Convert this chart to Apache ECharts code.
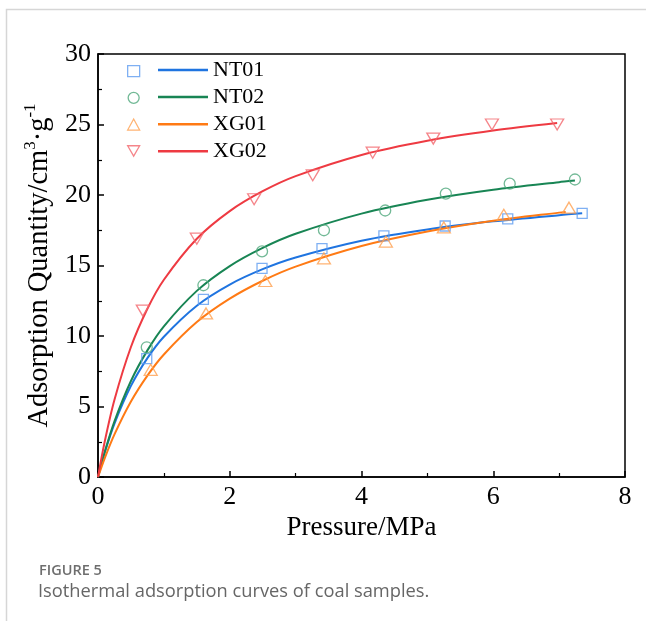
<!DOCTYPE html>
<html><head><meta charset="utf-8">
<script src="https://cdn.jsdelivr.net/npm/echarts@6/dist/echarts.min.js"></script>
<style>html,body{margin:0;padding:0;background:#fff}#c{width:646px;height:621px}</style>
</head><body><div id="c"></div>
<script>
// measured points
var nt01P = [0.74, 1.60, 2.49, 3.40, 4.34, 5.27, 6.22, 7.35];
var nt01V = [8.4, 12.6, 14.8, 16.2, 17.1, 17.8, 18.3, 18.7];
var nt02P = [0.74, 1.60, 2.49, 3.43, 4.36, 5.28, 6.25, 7.24];
var nt02V = [9.2, 13.6, 16.0, 17.5, 18.9, 20.1, 20.8, 21.1];
var xg01P = [0.80, 1.64, 2.54, 3.43, 4.37, 5.25, 6.16, 7.15];
var xg01V = [7.6, 11.6, 13.9, 15.5, 16.7, 17.7, 18.6, 19.1];
var xg02P = [0.68, 1.50, 2.37, 3.26, 4.17, 5.09, 5.98, 6.97];
var xg02V = [11.8, 16.9, 19.7, 21.4, 23.0, 24.0, 25.0, 25.0];
// fitted curves
var nt01FitP = [0, 0.1, 0.25, 0.5, 0.75, 1, 1.5, 2, 2.5, 3, 4, 5, 6, 7, 7.35];
var nt01FitV = [0, 1.70, 3.79, 6.46, 8.43, 9.95, 12.15, 13.65, 14.74, 15.57, 16.76, 17.56, 18.13, 18.57, 18.70];
var nt02FitP = [0, 0.1, 0.25, 0.5, 0.75, 1, 1.5, 2, 2.5, 3, 4, 5, 6, 7, 7.24];
var nt02FitV = [0, 1.74, 3.95, 6.81, 8.98, 10.69, 13.20, 14.96, 16.25, 17.25, 18.68, 19.66, 20.37, 20.91, 21.02];
var xg01FitP = [0, 0.1, 0.25, 0.5, 0.75, 1, 1.5, 2, 2.5, 3, 4, 5, 6, 7, 7.1];
var xg01FitV = [0, 1.31, 3.02, 5.35, 7.19, 8.69, 10.99, 12.65, 13.92, 14.92, 16.38, 17.41, 18.17, 18.75, 18.80];
var xg02FitP = [0, 0.1, 0.25, 0.5, 0.75, 1, 1.5, 2, 2.5, 3, 4, 5, 6, 6.97];
var xg02FitV = [0, 2.47, 5.48, 9.22, 11.93, 13.99, 16.90, 18.86, 20.27, 21.34, 22.84, 23.85, 24.57, 25.10];
var names = ['NT01', 'NT02', 'XG01', 'XG02'];
var xTicks = [0, 2, 4, 6, 8];
var yTicks = [0, 5, 10, 15, 20, 25, 30];

function zip(a, b) { return a.map(function (v, i) { return [v, b[i]]; }); }
var lineColors = ['#1f74e0', '#188554', '#ff7a14', '#ee3a42'];
var markColors = ['#5f9cf0', '#4fa77c', '#ffa050', '#f3676d'];
var invTri = 'path://M0,0 L20,0 L10,17.3 Z';
var symbols = ['rect', 'circle', 'triangle', invTri];
var symSizes = [10, 11, [13, 11], [13, 11]];
var pts = [zip(nt01P, nt01V), zip(nt02P, nt02V), zip(xg01P, xg01V), zip(xg02P, xg02V)];
var fits = [zip(nt01FitP, nt01FitV), zip(nt02FitP, nt02FitV), zip(xg01FitP, xg01FitV), zip(xg02FitP, xg02FitV)];

var series = [];
names.forEach(function (n, i) {
  series.push({
    name: n, type: 'line', data: fits[i], showSymbol: false, symbol: 'none',
    smooth: 0.3,
    lineStyle: { color: lineColors[i], width: 2 }, itemStyle: { color: lineColors[i] },
    z: 2, silent: true
  });
});
names.forEach(function (n, i) {
  series.push({
    name: n + ' pts', type: 'scatter', data: pts[i], symbol: symbols[i], symbolSize: symSizes[i],
    itemStyle: { color: 'rgba(255,255,255,0)', borderColor: markColors[i], borderWidth: 1.3 },
    z: 3, silent: true
  });
});

var serif = 'Liberation Serif';
var chart = echarts.init(document.getElementById('c'));
chart.setOption({
  animation: false,
  backgroundColor: '#fff',
  grid: { left: 98, right: 21, top: 54, bottom: 144, show: true, borderColor: '#000', borderWidth: 1.5, backgroundColor: 'transparent' },
  xAxis: {
    type: 'value', min: xTicks[0], max: xTicks[xTicks.length - 1], interval: 2,
    name: 'Pressure/MPa', nameLocation: 'middle', nameGap: 34,
    nameTextStyle: { fontFamily: serif, fontSize: 27, color: '#000' },
    axisLine: { show: true, onZero: false, lineStyle: { color: '#000', width: 1.5 } },
    axisTick: { show: true, inside: true, length: 6, lineStyle: { color: '#000', width: 1.5 } },
    minorTick: { show: true, splitNumber: 2, length: 4, lineStyle: { color: '#000', width: 1.2 } },
    splitLine: { show: false },
    axisLabel: { fontFamily: serif, fontSize: 26, color: '#000', margin: 7 }
  },
  yAxis: {
    type: 'value', min: yTicks[0], max: yTicks[yTicks.length - 1], interval: 5,
    name: '{n|Adsorption Quantity/cm}{s|3}{n|·g}{s|-1}', nameLocation: 'middle', nameGap: 40,
    nameTextStyle: {
      fontFamily: serif, fontSize: 28.5, color: '#000',
      rich: {
        n: { fontFamily: serif, fontSize: 28.5, color: '#000', lineHeight: 32, verticalAlign: 'bottom' },
        s: { fontFamily: serif, fontSize: 17, color: '#000', verticalAlign: 'top', lineHeight: 32 }
      }
    },
    axisLine: { show: true, onZero: false, lineStyle: { color: '#000', width: 1.5 } },
    axisTick: { show: true, inside: true, length: 6, lineStyle: { color: '#000', width: 1.5 } },
    minorTick: { show: true, splitNumber: 2, length: 4, lineStyle: { color: '#000', width: 1.2 } },
    splitLine: { show: false },
    axisLabel: { fontFamily: serif, fontSize: 26, color: '#000', margin: 7 }
  },
  legend: [
    {
      orient: 'vertical', left: 122, top: 60, padding: 5, itemWidth: 12, itemHeight: 11, itemGap: 14.4,
      formatter: function () { return ''; }, selectedMode: false,
      textStyle: { fontSize: 1, lineHeight: 1 },
      data: names.map(function (n, i) {
        return { name: n + ' pts', icon: ['rect', 'circle', 'triangle', invTri][i],
          itemStyle: { color: 'rgba(255,255,255,0)', borderColor: markColors[i], borderWidth: 1.3 } };
      })
    },
    {
      orient: 'vertical', left: 153, top: 54, padding: 5, itemWidth: 50, itemHeight: 2.5, itemGap: 5.1,
      selectedMode: false, icon: 'rect',
      textStyle: { fontFamily: serif, fontSize: 22, color: '#000', lineHeight: 22 },
      data: names
    }
  ],
  graphic: [
    { type: 'polyline', shape: { points: [[6.5, 621], [6.5, 9.5], [646, 9.5]] }, style: { stroke: '#d6d6d6', lineWidth: 1.5, fill: null }, silent: true },
    { type: 'text', left: 39, top: 563, style: { text: 'FIGURE 5', fontFamily: 'Open Sans', fontWeight: 600, fontSize: 14.5, fill: '#6e6e6e' } },
    { type: 'text', left: 38, top: 583, style: { text: 'Isothermal adsorption curves of coal samples.', fontFamily: 'Open Sans', fontSize: 18.3, fill: '#666' } }
  ],
  series: series
});
</script></body></html>
